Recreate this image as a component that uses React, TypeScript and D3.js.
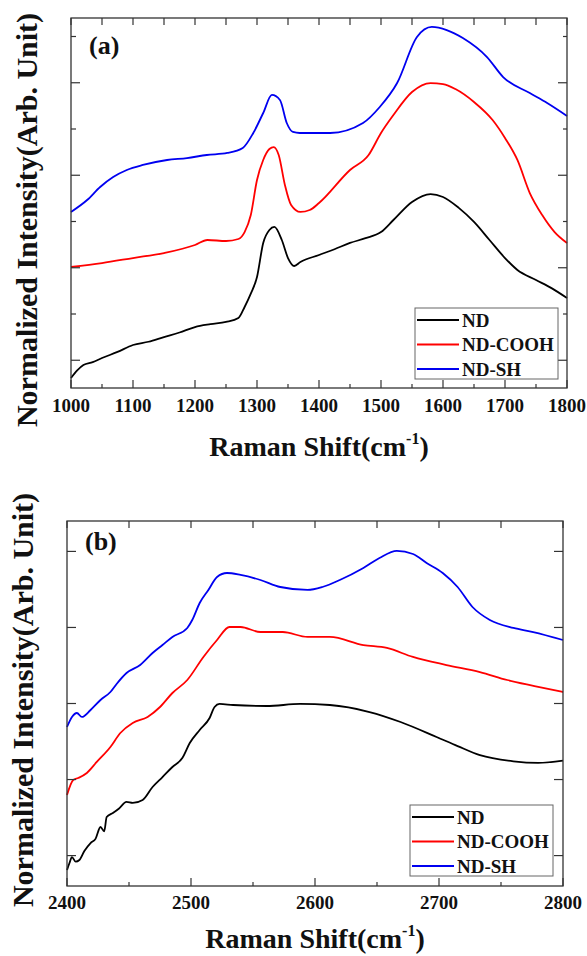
import * as d3 from "d3";

type Pt = [number, number];

// ---- panel (a): 1000-1800 cm-1 ----
const ndA: Pt[] = [
  [1000, 1.08], [1010, 1.9], [1020, 2.49], [1035, 2.8], [1050, 3.24], [1075, 3.9], [1100, 4.65],
  [1125, 5.0], [1150, 5.51], [1175, 6.0], [1200, 6.59], [1225, 6.9], [1250, 7.14], [1270, 7.57],
  [1280, 8.76], [1290, 10.2], [1300, 12.0], [1310, 15.68], [1320, 17.08], [1328, 17.41],
  [1340, 16.0], [1350, 14.05], [1360, 13.19], [1370, 13.62], [1400, 14.38], [1425, 15.0],
  [1450, 15.68], [1475, 16.2], [1500, 16.86], [1520, 18.16], [1550, 20.11], [1580, 20.97],
  [1600, 20.65], [1625, 19.5], [1650, 17.95], [1675, 16.0], [1700, 14.05], [1720, 12.76],
  [1750, 11.68], [1775, 10.8], [1800, 9.73],
];
const coohA: Pt[] = [
  [1000, 13.08], [1050, 13.51], [1100, 14.05], [1150, 14.59], [1200, 15.46], [1220, 16.0],
  [1250, 15.89], [1270, 16.11], [1280, 16.86], [1290, 18.7], [1300, 22.49], [1310, 24.65],
  [1320, 25.84], [1327, 26.05], [1335, 25.19], [1345, 21.95], [1355, 19.78], [1370, 19.03],
  [1385, 19.24], [1400, 20.0], [1450, 23.57], [1480, 25.19], [1500, 27.57], [1520, 29.51],
  [1550, 32.0], [1580, 32.97], [1600, 32.86], [1620, 32.32], [1650, 30.92], [1680, 28.97],
  [1700, 27.03], [1720, 24.65], [1740, 21.08], [1760, 18.7], [1780, 16.86], [1800, 15.68],
];
const shA: Pt[] = [
  [1000, 19.03], [1026, 20.32], [1047, 21.73], [1068, 22.81], [1090, 23.57], [1116, 24.11],
  [1155, 24.65], [1187, 24.86], [1219, 25.19], [1252, 25.41], [1277, 25.95], [1294, 27.57],
  [1310, 29.73], [1324, 31.68], [1337, 31.14], [1348, 28.65], [1358, 27.68], [1369, 27.57],
  [1418, 27.57], [1471, 28.65], [1498, 30.38], [1526, 32.97], [1558, 37.95], [1582, 39.03],
  [1606, 38.7], [1632, 37.84], [1671, 35.78], [1697, 33.62], [1740, 31.89], [1768, 30.81],
  [1800, 29.41],
];

// ---- panel (b): 2400-2800 cm-1 ----
const ndB: Pt[] = [
  [2400, 2.1], [2402, 3.02], [2404, 3.81], [2407, 3.2], [2410, 3.42], [2414, 4.6], [2419, 5.65],
  [2423, 6.2], [2427, 7.76], [2430, 7.2], [2432, 9.07], [2437, 9.6], [2442, 10.2], [2448, 11.05],
  [2453, 10.92], [2461, 11.31], [2469, 13.02], [2477, 14.33], [2485, 15.65], [2493, 16.83],
  [2499, 18.81], [2507, 20.52], [2515, 22.09], [2519, 23.54], [2523, 23.94], [2534, 23.8],
  [2561, 23.67], [2588, 23.94], [2612, 23.8], [2644, 22.88], [2669, 21.57], [2698, 19.6],
  [2715, 18.4], [2733, 17.2], [2760, 16.4], [2780, 16.2], [2800, 16.5],
];
const coohB: Pt[] = [
  [2400, 11.97], [2405, 13.94], [2409, 14.2], [2416, 14.86], [2424, 16.31], [2435, 18.28],
  [2443, 20.12], [2453, 21.44], [2465, 22.23], [2475, 23.54], [2485, 25.38], [2497, 27.09],
  [2510, 30.12], [2521, 32.35], [2531, 34.06], [2540, 34.06], [2556, 33.4], [2574, 33.4],
  [2594, 32.75], [2612, 32.75], [2639, 31.69], [2658, 31.3], [2679, 30.12], [2706, 29.06],
  [2733, 28.14], [2755, 27.09], [2777, 26.3], [2800, 25.51],
];
const shB: Pt[] = [
  [2400, 20.91], [2404, 22.23], [2408, 22.75], [2412, 22.23], [2419, 23.15], [2427, 24.46],
  [2435, 25.51], [2440, 26.57], [2448, 28.01], [2459, 29.06], [2469, 30.64], [2477, 31.69],
  [2485, 32.75], [2497, 33.93], [2501, 34.98], [2507, 37.22], [2514, 38.93], [2521, 40.64],
  [2529, 41.16], [2540, 40.9], [2556, 40.24], [2572, 39.32], [2594, 38.93], [2606, 39.32],
  [2620, 40.24], [2639, 41.82], [2652, 43.13], [2666, 44.06], [2679, 43.66], [2690, 42.48],
  [2703, 41.16], [2715, 39.32], [2727, 36.69], [2741, 34.98], [2760, 33.93], [2776, 33.4],
  [2800, 32.35],
];

const seriesNames = ["ND", "ND-COOH", "ND-SH"];
const colors = ["#000000", "#ff0000", "#0000f0"];

const xTicksA = [1000, 1100, 1200, 1300, 1400, 1500, 1600, 1700, 1800];
const yMajorA = [3, 13, 23, 33];
const yMinorA = [8, 18, 28, 38];
const xTicksB = [2400, 2500, 2600, 2700, 2800];
const yMajorB = [4, 14, 24, 34, 44];

const font = "'Liberation Serif', 'Times New Roman', serif";

type PanelProps = {
  tag: string;
  series: Pt[][];
  xDomain: [number, number];
  yDomain: [number, number];
  xTicks: number[];
  yMajor: number[];
  yMinor: number[];
  box: { left: number; right: number; top: number; bottom: number };
  labelBaseline: number;
  titleBaseline: number;
  yTitleX: number;
  yTitleY: number;
  tagBaseline: number;
  tagX: number;
  legend: { x: number; y: number };
};

function Panel(p: PanelProps) {
  const { left, right, top, bottom } = p.box;
  const x = d3.scaleLinear().domain(p.xDomain).range([left, right]);
  const y = d3.scaleLinear().domain(p.yDomain).range([bottom, top]);
  const line = d3
    .line<Pt>()
    .x((d) => x(d[0]))
    .y((d) => y(d[1]))
    .curve(d3.curveMonotoneX);

  const halfTicks = d3.range(p.xDomain[0], p.xDomain[1] + 1, 50);
  const axisColor = "#333";

  return (
    <g fontFamily={font} fontWeight="bold">
      {p.series.map((s, i) => (
        <path key={i} d={line(s) || ""} fill="none" stroke={colors[i]} strokeWidth={1.8} strokeLinejoin="round" />
      ))}
      <rect x={left} y={top} width={right - left} height={bottom - top} fill="none" stroke={axisColor} strokeWidth={1.3} />
      {halfTicks.map((t) => {
        const major = (t - p.xDomain[0]) % 100 === 0;
        return (
          <g key={t} stroke={axisColor} strokeWidth={1.2}>
            <line x1={x(t)} x2={x(t)} y1={bottom} y2={bottom - (major ? 8 : 4)} />
            <line x1={x(t)} x2={x(t)} y1={top} y2={top + 7} />
          </g>
        );
      })}
      {p.yMajor.map((t) => (
        <g key={"M" + t} stroke={axisColor} strokeWidth={1.2}>
          <line x1={left} x2={left + 9} y1={y(t)} y2={y(t)} />
          <line x1={right} x2={right - 9} y1={y(t)} y2={y(t)} />
        </g>
      ))}
      {p.yMinor.map((t) => (
        <g key={"m" + t} stroke={axisColor} strokeWidth={1.2}>
          <line x1={left} x2={left + 5} y1={y(t)} y2={y(t)} />
          <line x1={right} x2={right - 4} y1={y(t)} y2={y(t)} />
        </g>
      ))}
      {p.xTicks.map((t) => (
        <text key={t} x={x(t)} y={p.labelBaseline} fontSize={19} textAnchor="middle" fill="#111">
          {t}
        </text>
      ))}
      <text x={(left + right) / 2} y={p.titleBaseline} fontSize={28} textAnchor="middle" fill="#111">
        Raman Shift(cm
        <tspan fontSize={16} dy={-12}>-1</tspan>
        <tspan dy={12}>)</tspan>
      </text>
      <text
        transform={`translate(${p.yTitleX},${p.yTitleY}) rotate(-90)`}
        fontSize={30}
        textAnchor="middle"
        fill="#111"
      >
        Normalized Intensity(Arb. Unit)
      </text>
      <text x={p.tagX} y={p.tagBaseline} fontSize={26} fill="#111">
        {p.tag}
      </text>
      <g transform={`translate(${p.legend.x},${p.legend.y})`}>
        <rect x={0} y={0} width={143} height={71} fill="#fff" stroke="#666" strokeWidth={1} />
        {seriesNames.map((n, i) => (
          <g key={n} transform={`translate(0,${12 + i * 24.5})`}>
            <line x1={2} x2={44} y1={0} y2={0} stroke={colors[i]} strokeWidth={2} />
            <text x={47} y={6.5} fontSize={19} fill="#111">
              {n}
            </text>
          </g>
        ))}
      </g>
    </g>
  );
}

export default function App() {
  return (
    <div style={{ position: "absolute", left: 0, top: 0 }}>
      <svg width={587} height={956} style={{ display: "block", background: "#fff" }}>
        <Panel
          tag="(a)"
          series={[ndA, coohA, shA]}
          xDomain={[1000, 1800]}
          yDomain={[0, 40]}
          xTicks={xTicksA}
          yMajor={yMajorA}
          yMinor={yMinorA}
          box={{ left: 71, right: 567, top: 18, bottom: 388 }}
          labelBaseline={412}
          titleBaseline={456}
          yTitleX={37}
          yTitleY={220}
          tagX={89}
          tagBaseline={54}
          legend={{ x: 415, y: 308 }}
        />
        <Panel
          tag="(b)"
          series={[ndB, coohB, shB]}
          xDomain={[2400, 2800]}
          yDomain={[0, 48]}
          xTicks={xTicksB}
          yMajor={yMajorB}
          yMinor={[]}
          box={{ left: 67, right: 563, top: 521, bottom: 886 }}
          labelBaseline={909}
          titleBaseline={948}
          yTitleX={33}
          yTitleY={700}
          tagX={85}
          tagBaseline={550}
          legend={{ x: 410, y: 805 }}
        />
      </svg>
    </div>
  );
}
